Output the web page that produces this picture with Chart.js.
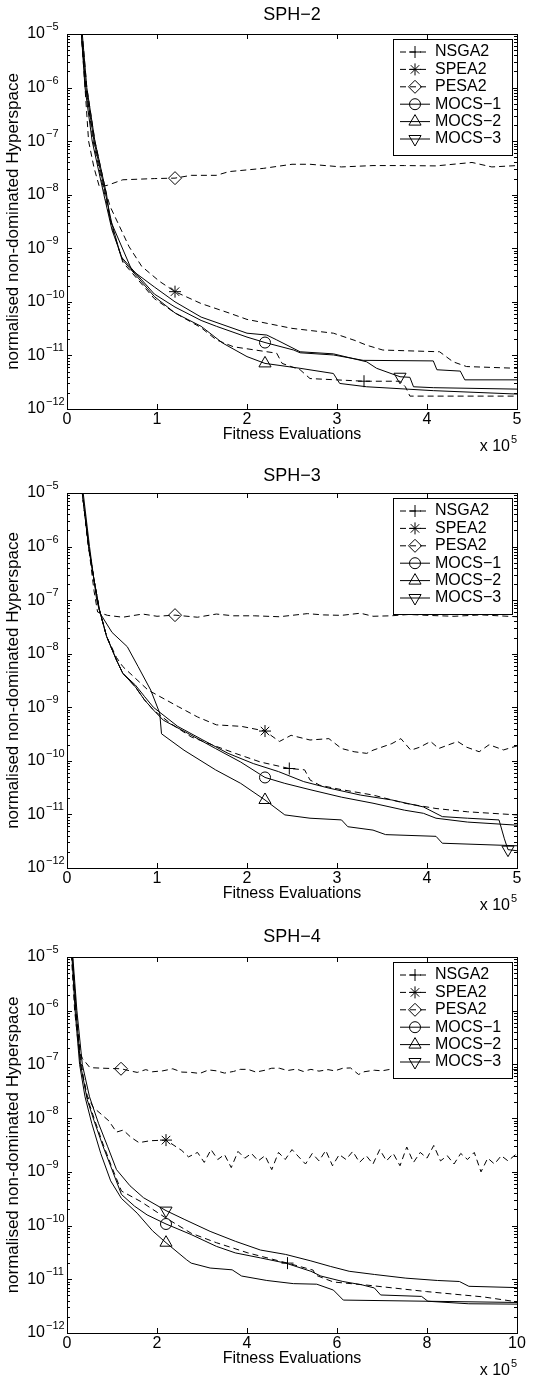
<!DOCTYPE html>
<html>
<head>
<meta charset="utf-8">
<script src="https://cdn.jsdelivr.net/npm/chart.js@4.4.1/dist/chart.umd.min.js"></script>
<style>
  body { margin: 0; background: #fff; }
  canvas { position: absolute; left: 0; }
</style>
</head>
<body>
<canvas id="sph2" width="552" height="459" style="top:0px"></canvas>
<canvas id="sph3" width="552" height="459" style="top:459px"></canvas>
<canvas id="sph4" width="552" height="460" style="top:918px"></canvas>
<script>
// x values are fitness evaluations in units of 10^5, y is normalised hyperspace
const algorithms = ['NSGA2', 'SPEA2', 'PESA2', 'MOCS−1', 'MOCS−2', 'MOCS−3'];
const yDecades = [-12, -11, -10, -9, -8, -7, -6, -5];

// ---- SPH-2 ----
const sph2NSGA2 = [[0.1,4e-5],[0.16,1e-5],[0.21,1e-6],[0.29,1e-7],[0.42,1e-8],[0.5,2.5e-9],[0.62,5.5e-10],[0.97,1.15e-10],[1.2,6.2e-11],[1.49,3.3e-11],[1.66,1.95e-11],[1.85,1.45e-11],[2.33,1.1e-11],[2.39,7.1e-12],[2.59,5.4e-12],[2.7,3.7e-12],[3.3,3.3e-12],[3.7,3.3e-12],[3.76,2.6e-12],[3.81,1.74e-12],[5,1.74e-12]];
const sph2SPEA2 = [[0.1,4e-5],[0.17,1e-5],[0.22,1e-6],[0.31,1e-7],[0.44,1e-8],[0.48,6e-9],[0.69,1.07e-9],[0.83,4.6e-10],[1.03,2.4e-10],[1.2,1.55e-10],[1.49,9.3e-11],[1.8,6.2e-11],[2.0,4.7e-11],[2.15,4.2e-11],[2.5,3.2e-11],[2.96,2.6e-11],[3.2,1.9e-11],[3.33,1.55e-11],[3.51,1.26e-11],[4.14,1.17e-11],[4.29,7.6e-12],[4.44,6.2e-12],[5,5.75e-12]];
const sph2PESA2 = [[0.1,4e-5],[0.16,1e-5],[0.2,1e-6],[0.24,1e-7],[0.3,3.2e-8],[0.36,1.4e-8],[0.45,1.5e-8],[0.62,1.9e-8],[0.97,2.0e-8],[1.2,2.04e-8],[1.38,2.3e-8],[1.66,2.3e-8],[1.8,2.7e-8],[2.18,3.1e-8],[2.5,3.7e-8],[2.7,3.7e-8],[3.05,3.3e-8],[3.4,3.5e-8],[3.75,3.5e-8],[4.1,3.45e-8],[4.5,4.0e-8],[4.72,3.3e-8],[5,3.5e-8]];
const sph2MOCS1 = [[0.1,4e-5],[0.16,1e-5],[0.21,1e-6],[0.3,1e-7],[0.43,1e-8],[0.5,2.8e-9],[0.6,7e-10],[0.97,1.4e-10],[1.2,8e-11],[1.49,4.5e-11],[1.66,3.5e-11],[2.0,2.2e-11],[2.2,1.74e-11],[2.52,1.26e-11],[2.59,1.12e-11],[2.96,1.02e-11],[3.29,8.1e-12],[4.07,7.9e-12],[4.11,5.4e-12],[4.37,5.1e-12],[4.42,3.5e-12],[5,3.5e-12]];
const sph2MOCS2 = [[0.1,4e-5],[0.16,1e-5],[0.2,1e-6],[0.28,1e-7],[0.41,1e-8],[0.5,2.2e-9],[0.62,6e-10],[0.97,1.26e-10],[1.2,6.2e-11],[1.49,3.5e-11],[1.73,1.7e-11],[2.0,9.5e-12],[2.2,7.1e-12],[2.59,5.75e-12],[2.96,4.6e-12],[3.03,3.0e-12],[3.33,2.6e-12],[4.07,2.2e-12],[5,1.9e-12]];
const sph2MOCS3 = [[0.1,4e-5],[0.17,1e-5],[0.22,1e-6],[0.31,1e-7],[0.44,1e-8],[0.48,3.4e-9],[0.72,3.9e-10],[0.97,1.9e-10],[1.2,1.0e-10],[1.49,5.2e-11],[2.0,2.6e-11],[2.22,2.4e-11],[2.33,1.95e-11],[2.59,1.17e-11],[2.96,1.07e-11],[3.33,7.6e-12],[3.44,5.75e-12],[3.7,4.0e-12],[3.81,3.9e-12],[3.85,2.6e-12],[4.07,2.5e-12],[5,2.35e-12]];
const sph2Marks = [3.3, 1.2, 1.2, 2.2, 2.2, 3.7];

// ---- SPH-3 ----
const sph3NSGA2 = [[0.1,4e-5],[0.17,1e-5],[0.24,1e-6],[0.3,2.4e-7],[0.36,6.6e-8],[0.44,2.1e-8],[0.55,7.6e-9],[0.62,4.3e-9],[0.76,2.4e-9],[0.86,1.38e-9],[0.96,8.9e-10],[1.15,5e-10],[1.38,2.8e-10],[1.66,1.86e-10],[1.87,1.38e-10],[2.15,9.5e-11],[2.47,7.2e-11],[2.64,6.8e-11],[2.7,4.4e-11],[2.81,3.5e-11],[3.05,2.9e-11],[3.4,2.3e-11],[3.75,1.62e-11],[4.1,1.29e-11],[4.45,1.12e-11],[5,9.8e-12]];
const sph3SPEA2 = [[0.1,4e-5],[0.17,1e-5],[0.24,1e-6],[0.3,2.4e-7],[0.36,6.6e-8],[0.44,2.1e-8],[0.55,8.5e-9],[0.62,5.75e-9],[0.9,2.1e-9],[1.24,1.02e-9],[1.45,6.6e-10],[1.66,4.7e-10],[1.94,4.4e-10],[2.2,3.6e-10],[2.36,2.3e-10],[2.49,3.0e-10],[2.7,2.45e-10],[2.91,2.6e-10],[3.05,1.7e-10],[3.19,1.48e-10],[3.33,1.38e-10],[3.4,1.58e-10],[3.61,2.1e-10],[3.71,2.6e-10],[3.82,1.58e-10],[3.92,1.8e-10],[4.04,2.3e-10],[4.13,1.7e-10],[4.34,2.3e-10],[4.44,1.8e-10],[4.58,1.48e-10],[4.69,2.0e-10],[4.85,1.6e-10],[5,1.9e-10]];
const sph3PESA2 = [[0.1,4e-5],[0.17,1e-5],[0.24,1e-6],[0.3,1.5e-7],[0.34,6.0e-8],[0.45,5.2e-8],[0.62,4.8e-8],[0.84,5.5e-8],[1.0,5.0e-8],[1.2,5.25e-8],[1.45,4.8e-8],[1.66,5.5e-8],[1.85,5.1e-8],[2.08,5.1e-8],[2.36,4.9e-8],[2.67,5.6e-8],[2.85,5.3e-8],[3.05,5.2e-8],[3.26,5.7e-8],[3.4,5.0e-8],[3.6,5.1e-8],[3.8,5.4e-8],[4.0,5.2e-8],[4.3,5.0e-8],[4.6,5.3e-8],[4.8,5.1e-8],[5,4.9e-8]];
const sph3MOCS1 = [[0.1,4e-5],[0.17,1e-5],[0.24,1e-6],[0.3,2.4e-7],[0.36,6.6e-8],[0.44,2.1e-8],[0.55,7.6e-9],[0.62,4.3e-9],[0.76,2.4e-9],[0.86,1.38e-9],[0.96,8.9e-10],[1.07,5.75e-10],[1.31,3.5e-10],[1.65,1.7e-10],[1.93,9.5e-11],[2.2,4.9e-11],[2.42,3.8e-11],[2.7,2.9e-11],[3.05,2.1e-11],[3.4,1.62e-11],[3.75,1.2e-11],[3.96,1.05e-11],[4.1,8.5e-12],[4.45,7.2e-12],[5,6.3e-12]];
const sph3MOCS2 = [[0.1,4e-5],[0.18,1e-5],[0.25,1e-6],[0.33,1e-7],[0.37,5.6e-8],[0.5,2.5e-8],[0.67,1.35e-8],[0.79,5.75e-9],[0.93,2.1e-9],[1.03,7.8e-10],[1.05,3.2e-10],[1.3,1.58e-10],[1.65,6.8e-11],[1.93,3.8e-11],[2.2,1.86e-11],[2.42,9.8e-12],[2.7,8.5e-12],[3.05,7.9e-12],[3.12,5.9e-12],[3.4,5.1e-12],[3.54,4.2e-12],[4.1,3.9e-12],[4.17,2.9e-12],[5,2.6e-12]];
const sph3MOCS3 = [[0.1,4e-5],[0.17,1e-5],[0.24,1e-6],[0.3,2.4e-7],[0.36,6.6e-8],[0.44,2.1e-8],[0.55,7.6e-9],[0.62,4.3e-9],[0.76,2.6e-9],[0.86,1.6e-9],[0.96,1.0e-9],[1.23,4.4e-10],[1.51,2.45e-10],[1.79,1.38e-10],[2.07,8.9e-11],[2.35,6.3e-11],[2.63,4.1e-11],[2.91,3.1e-11],[3.26,2.3e-11],[3.61,1.86e-11],[3.96,1.38e-11],[4.17,9.1e-12],[4.45,8.5e-12],[4.8,7.9e-12],[4.86,3.5e-12],[4.9,2.2e-12],[5,2.1e-12]];
const sph3Marks = [2.47, 2.2, 1.2, 2.2, 2.2, 4.9];

// ---- SPH-4 ----
const sph4NSGA2 = [[0.04,4e-5],[0.12,1e-5],[0.2,1e-6],[0.3,1e-7],[0.45,2.4e-8],[0.6,1e-8],[0.8,3.3e-9],[1.0,1.2e-9],[1.21,4.4e-10],[1.64,2.8e-10],[2.2,1.38e-10],[2.76,7.2e-11],[3.32,4.8e-11],[4.02,3.1e-11],[4.9,2.0e-11],[5.47,1.48e-11],[5.52,1.2e-11],[5.92,8.9e-12],[6.66,7.8e-12],[7.99,5.9e-12],[9.25,4.7e-12],[10,3.8e-12]];
const sph4SPEA2 = [[0.04,4e-5],[0.12,1e-5],[0.2,1e-6],[0.3,1.4e-7],[0.36,6e-8],[0.45,2.6e-8],[0.58,1.6e-8],[0.93,8.9e-9],[1.1,5.5e-9],[1.25,6e-9],[1.42,4.4e-9],[1.6,3.5e-9],[1.85,3.8e-9],[2.2,3.9e-9],[2.55,2.5e-9],
  [2.7,1.9e-9],[2.9,2.3e-9],[3.05,1.5e-9],[3.2,2.6e-9],[3.35,1.7e-9],[3.5,2.1e-9],[3.65,1.2e-9],[3.8,2.4e-9],[3.95,1.8e-9],[4.1,2.2e-9],[4.25,1.6e-9],[4.4,2.0e-9],[4.55,1.1e-9],[4.7,2.3e-9],[4.85,1.7e-9],[5.0,2.6e-9],[5.15,1.9e-9],[5.3,1.4e-9],[5.45,2.2e-9],[5.6,1.6e-9],[5.75,2.5e-9],[5.9,1.3e-9],[6.05,2.1e-9],[6.2,1.7e-9],[6.35,2.4e-9],[6.5,1.5e-9],[6.65,2.0e-9],[6.8,1.4e-9],[6.95,2.6e-9],[7.1,1.6e-9],[7.25,2.2e-9],[7.4,1.3e-9],[7.55,2.9e-9],[7.7,1.5e-9],[7.85,2.3e-9],[8.0,1.8e-9],[8.15,3.1e-9],[8.3,1.6e-9],[8.45,2.0e-9],[8.6,1.4e-9],[8.75,2.2e-9],[8.9,1.7e-9],[9.05,2.3e-9],[9.2,1.0e-9],[9.35,1.8e-9],[9.5,1.4e-9],[9.65,2.0e-9],[9.8,1.6e-9],[10,2.2e-9]];
const sph4PESA2 = [[0.04,4e-5],[0.1,1e-5],[0.17,1e-6],[0.26,2e-7],[0.34,1.3e-7],[0.51,8.7e-8],[0.8,8.5e-8],[1.2,8.3e-8],[1.4,7.6e-8],[1.56,7.1e-8],[1.75,8.0e-8],[1.9,7.3e-8],[2.13,7.6e-8],[2.35,8.3e-8],[2.55,7.2e-8],[2.76,7.1e-8],[2.95,6.8e-8],[3.15,7.9e-8],[3.32,7.6e-8],[3.5,6.9e-8],[3.7,7.4e-8],[3.85,8.1e-8],[4.02,8.1e-8],[4.2,7.2e-8],[4.4,7.8e-8],[4.55,8.5e-8],[4.72,8.5e-8],[4.9,7.7e-8],[5.1,8.2e-8],[5.25,7.4e-8],[5.42,8.1e-8],[5.6,7.5e-8],[5.8,8.0e-8],[5.95,7.6e-8],[6.13,8.5e-8],[6.3,8.6e-8],[6.48,6.5e-8],[6.6,7.3e-8],[6.83,7.8e-8],[7.0,7.6e-8],[7.18,8.1e-8],[7.4,7.7e-8],[7.7,8.0e-8],[8.0,8.2e-8],[8.4,7.8e-8],[8.8,8.1e-8],[9.2,7.9e-8],[9.6,8.2e-8],[10,8.0e-8]];
const sph4MOCS1 = [[0.04,4e-5],[0.12,1e-5],[0.2,1e-6],[0.3,1e-7],[0.45,2.2e-8],[0.6,9e-9],[0.8,3e-9],[1.0,1.1e-9],[1.21,3.8e-10],[1.5,2.3e-10],[1.78,1.58e-10],[2.2,1.07e-10],[2.76,6.8e-11],[3.32,4.1e-11],[3.74,3.1e-11],[4.3,2.5e-11],[4.86,2.0e-11],[5.42,1.41e-11],[5.64,1.15e-11],[6.13,9.1e-12],[6.55,7.9e-12],[6.83,6.9e-12],[6.97,5.1e-12],[7.88,4.8e-12],[8.02,3.9e-12],[8.93,3.5e-12],[10,3.45e-12]];
const sph4MOCS2 = [[0.04,4e-5],[0.11,1e-5],[0.18,1e-6],[0.28,1e-7],[0.4,2.5e-8],[0.55,8e-9],[0.75,2.2e-9],[0.97,6.8e-10],[1.21,3.2e-10],[1.56,1.7e-10],[1.9,8e-11],[2.2,4.8e-11],[2.66,2.3e-11],[2.76,2.0e-11],[3.18,1.62e-11],[3.67,1.5e-11],[3.88,1.15e-11],[4.44,9.5e-12],[5.03,8.3e-12],[5.55,8.1e-12],[5.92,6.3e-12],[6.14,4.1e-12],[10,3.7e-12]];
const sph4MOCS3 = [[0.04,4e-5],[0.13,1e-5],[0.22,1e-6],[0.34,1e-7],[0.5,2.5e-8],[0.7,8e-9],[0.9,3e-9],[1.1,1.1e-9],[1.4,5.5e-10],[1.7,3.3e-10],[2.2,1.9e-10],[2.62,1.29e-10],[3.18,7.8e-11],[3.74,5.1e-11],[4.3,3.5e-11],[4.86,2.9e-11],[5.42,2.2e-11],[5.85,1.74e-11],[6.27,1.41e-11],[6.83,1.23e-11],[7.53,1.05e-11],[8.23,9.5e-12],[8.72,9.1e-12],[8.93,7.4e-12],[10,7.0e-12]];
const sph4Marks = [4.9, 2.2, 1.2, 2.2, 2.2, 2.2];

const FONT = "'Liberation Sans', Arial, Helvetica, sans-serif";
const FS = 16;        // tick labels, legend, x label
const FS_TITLE = 18;
const FS_YLABEL = 17;
Chart.defaults.font.family = FONT;
Chart.defaults.color = '#000';

const seriesStyles = [
  { dash: [6, 4], point: 'cross', r: 6 },
  { dash: [6, 4], point: 'star', r: 6 },
  { dash: [6, 4], point: 'rectRot', r: 6.5 },
  { dash: [], point: 'circle', r: 5.5 },
  { dash: [], point: 'triangle', r: 7 },
  { dash: [], point: 'triangle', r: 7, rot: 180 }
];

// box, inward ticks, 10^n labels and the x 10^5 note
const matlabFrame = {
  id: 'matlabFrame',
  afterDraw(chart) {
    const { ctx, chartArea: a, scales: { x, y } } = chart;
    ctx.save();
    ctx.strokeStyle = '#000';
    ctx.lineWidth = 1;
    ctx.beginPath();
    x.ticks.forEach(t => {
      const px = Math.round(x.getPixelForValue(t.value)) + 0.5;
      ctx.moveTo(px, a.bottom); ctx.lineTo(px, a.bottom - 5);
      ctx.moveTo(px, a.top); ctx.lineTo(px, a.top + 5);
    });
    yDecades.forEach(e => {
      for (let m = 1; m <= 9; m++) {
        if (e === -5 && m > 1) break;
        const py = Math.round(y.getPixelForValue(m * Math.pow(10, e))) + 0.5;
        const len = m === 1 ? 5 : 3;
        ctx.moveTo(a.left, py); ctx.lineTo(a.left + len, py);
        ctx.moveTo(a.right, py); ctx.lineTo(a.right - len, py);
      }
    });
    ctx.stroke();
    ctx.strokeRect(Math.round(a.left) + 0.5, Math.round(a.top) + 0.5, Math.round(a.width), Math.round(a.height));

    ctx.fillStyle = '#000';
    ctx.textBaseline = 'middle';
    yDecades.forEach(e => {
      const py = y.getPixelForValue(Math.pow(10, e));
      ctx.font = FS + 'px ' + FONT;
      ctx.textAlign = 'right';
      ctx.fillText('10', a.left - 22, py);
      ctx.font = '11px ' + FONT;
      ctx.textAlign = 'left';
      ctx.fillText('−' + (-e), a.left - 21, py - 7);
    });
    ctx.font = FS + 'px ' + FONT;
    ctx.textAlign = 'right';
    ctx.fillText('x 10', a.right - 7, a.bottom + 38);
    ctx.font = '11px ' + FONT;
    ctx.textAlign = 'left';
    ctx.fillText('5', a.right - 6, a.bottom + 31);
    ctx.restore();
  }
};

const matlabLegend = {
  id: 'matlabLegend',
  afterDraw(chart) {
    const { ctx, chartArea: a } = chart;
    const w = 119, h = 116, rowH = 17.4;
    const left = Math.round(a.right - 5 - w), top = Math.round(a.top + 5);
    ctx.save();
    ctx.fillStyle = '#fff';
    ctx.fillRect(left, top, w, h);
    ctx.strokeStyle = '#000';
    ctx.lineWidth = 1;
    ctx.strokeRect(left + 0.5, top + 0.5, w, h);
    chart.data.datasets.forEach((ds, i) => {
      const st = seriesStyles[i];
      const cy = top + 13 + i * rowH;
      ctx.setLineDash(st.dash);
      ctx.beginPath();
      ctx.moveTo(left + 7, cy);
      ctx.lineTo(left + 37, cy);
      ctx.stroke();
      ctx.setLineDash([]);
      ctx.fillStyle = 'rgba(0,0,0,0)';
      Chart.helpers.drawPoint(ctx, { pointStyle: st.point, rotation: st.rot || 0, radius: st.r, borderWidth: 1 }, left + 22, cy);
      ctx.fillStyle = '#000';
      ctx.font = FS + 'px ' + FONT;
      ctx.textAlign = 'left';
      ctx.textBaseline = 'middle';
      ctx.fillText(ds.label, left + 42, cy);
    });
    ctx.restore();
  }
};

const panels = [
  { id: 'sph2', title: 'SPH−2', height: 459, areaTop: 34, areaBottom: 409, titleY: 15, xMax: 5, xStep: 1,
    series: [sph2NSGA2, sph2SPEA2, sph2PESA2, sph2MOCS1, sph2MOCS2, sph2MOCS3], marks: sph2Marks },
  { id: 'sph3', title: 'SPH−3', height: 459, areaTop: 34, areaBottom: 409, titleY: 17, xMax: 5, xStep: 1,
    series: [sph3NSGA2, sph3SPEA2, sph3PESA2, sph3MOCS1, sph3MOCS2, sph3MOCS3], marks: sph3Marks },
  { id: 'sph4', title: 'SPH−4', height: 460, areaTop: 39, areaBottom: 415, titleY: 19, xMax: 10, xStep: 2,
    series: [sph4NSGA2, sph4SPEA2, sph4PESA2, sph4MOCS1, sph4MOCS2, sph4MOCS3], marks: sph4Marks }
];

panels.forEach(p => {
  const datasets = algorithms.map((name, i) => {
    const st = seriesStyles[i];
    const pts = p.series[i];
    const mi = pts.findIndex(q => Math.abs(q[0] - p.marks[i]) < 1e-9);
    return {
      label: name,
      data: pts.map(q => ({ x: q[0], y: q[1] })),
      borderColor: '#000',
      borderWidth: 1,
      borderDash: st.dash,
      tension: 0,
      fill: false,
      pointStyle: st.point,
      pointRotation: st.rot || 0,
      pointRadius: ctx => (ctx.dataIndex === mi ? st.r : 0),
      pointHoverRadius: 0,
      pointBorderColor: '#000',
      pointBackgroundColor: 'rgba(0,0,0,0)',
      pointBorderWidth: 1
    };
  });

  const titleLine = FS_TITLE * 1.2;
  const titlePadTop = p.titleY - titleLine / 2;
  const titlePadBottom = p.areaTop - titlePadTop - titleLine;

  new Chart(document.getElementById(p.id), {
    type: 'line',
    data: { datasets },
    options: {
      responsive: false,
      maintainAspectRatio: false,
      animation: false,
      events: [],
      layout: { padding: { left: 0, right: 35, top: 0, bottom: 0 } },
      plugins: {
        legend: { display: false },
        tooltip: { enabled: false },
        title: {
          display: true, text: p.title, fullSize: false, color: '#000',
          font: { size: FS_TITLE, weight: 'normal', lineHeight: 1.2 },
          padding: { top: titlePadTop, bottom: titlePadBottom }
        }
      },
      scales: {
        x: {
          type: 'linear', min: 0, max: p.xMax,
          grid: { display: false, drawTicks: false },
          border: { display: false },
          ticks: { stepSize: p.xStep, autoSkip: false, maxRotation: 0, padding: 1,
                   font: { size: FS, lineHeight: 1.2 }, color: '#000', callback: v => String(v) },
          title: { display: true, text: 'Fitness Evaluations', color: '#000',
                   font: { size: FS, lineHeight: 1.2 },
                   padding: { top: 0, bottom: p.height - (p.areaBottom + 26) - FS * 0.6 } },
          afterFit: s => { s.height = p.height - p.areaBottom; s.paddingLeft = 0; s.paddingRight = 0; }
        },
        y: {
          type: 'logarithmic', min: 1e-12, max: 1e-5,
          grid: { display: false, drawTicks: false },
          border: { display: false },
          ticks: { display: false },
          title: { display: true, text: 'normalised non-dominated Hyperspace', color: '#000',
                   font: { size: FS_YLABEL, lineHeight: 1.2 }, padding: { top: 3, bottom: 0 } },
          afterFit: s => { s.width = 67; s.paddingTop = 0; s.paddingBottom = 0; }
        }
      }
    },
    plugins: [matlabFrame, matlabLegend]
  });
});
</script>
</body>
</html>
